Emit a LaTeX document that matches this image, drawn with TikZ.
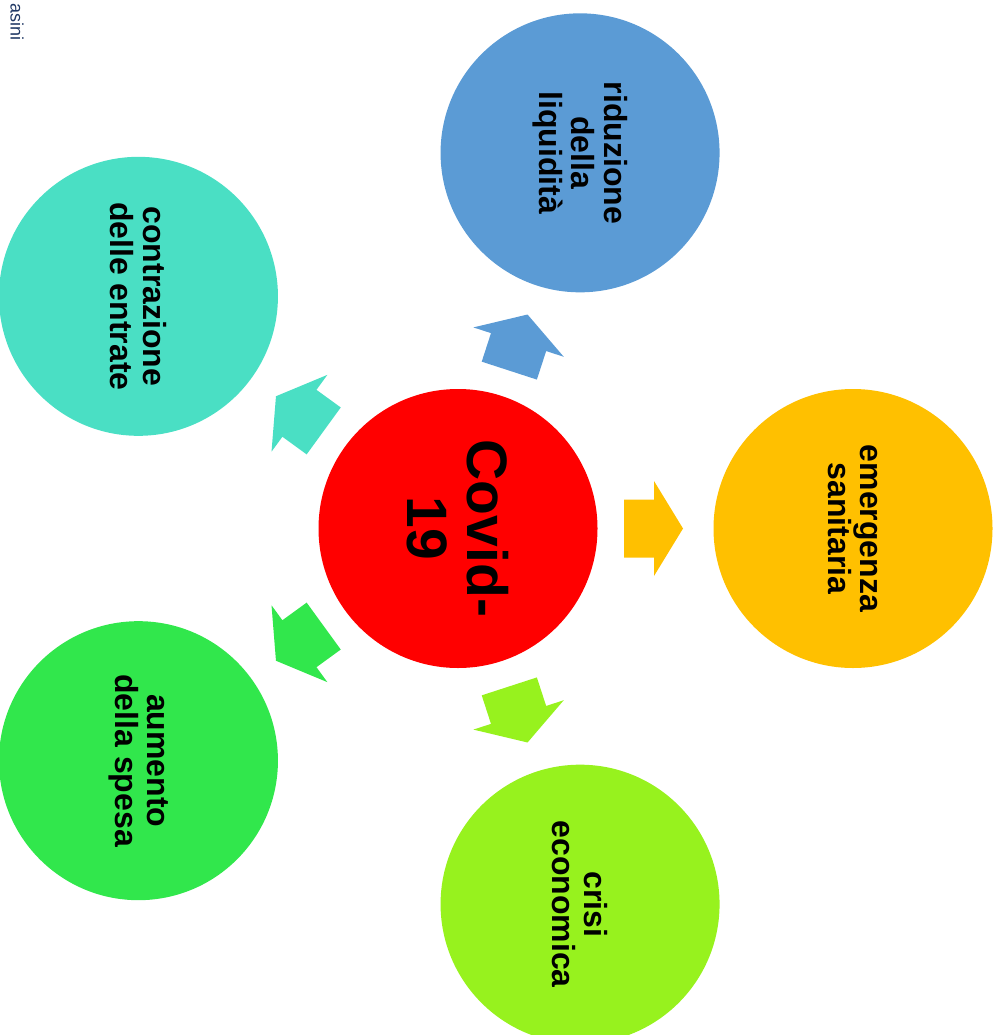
\documentclass[tikz,border=0pt]{standalone}
\usepackage{fontspec}
\setmainfont{Liberation Sans}
\usetikzlibrary{calc}
\definecolor{cred}{HTML}{FF0000}
\definecolor{cyellow}{HTML}{FFC000}
\definecolor{cblue}{HTML}{5B9BD5}
\definecolor{cteal}{HTML}{4ADFC4}
\definecolor{cgreen}{HTML}{31E74C}
\definecolor{clime}{HTML}{97F21E}
\definecolor{cnote}{HTML}{203864}
\newcommand{\blockarrow}[2]{%
  \fill[#2, shift={(C)}, rotate=#1] (166,29) -- (196,29) -- (196,47.5) -- (225,0)
    -- (196,-47.5) -- (196,-29) -- (166,-29) -- cycle;}
\tikzset{
  bubble/.style={circle, draw=none, minimum size=279pt, inner sep=0pt,
    align=center, rotate=-90, text=black,
    font=\bfseries\fontsize{32}{32.5}\selectfont},
  hub/.style={bubble, font=\bfseries\fontsize{57}{60}\selectfont}
}
\begin{document}
\begin{tikzpicture}[x=1pt, y=1pt]
\useasboundingbox (0,0) rectangle (999,-1035);
\clip (0,0) rectangle (999,-1035);
\coordinate (C) at (458,-528.5);
\node[hub, fill=cred] (covid) at (C) {Covid-\\19};
\node[bubble, fill=cyellow] (emer) at ($(C)+(0:395)$) {emergenza\\sanitaria};
\node[bubble, fill=cblue] (rid) at ($(C)+(72:395)$) {riduzione\\della\\liquidità};
\node[bubble, fill=cteal] (contr) at ($(C)+(144:395)$) {contrazione\\delle entrate};
\node[bubble, fill=cgreen] (aum) at ($(C)+(216:395)$) {aumento\\della spesa};
\node[bubble, fill=clime] (crisi) at ($(C)+(288:395)$) {crisi\\economica};
\blockarrow{0}{cyellow}
\blockarrow{72}{cblue}
\blockarrow{144}{cteal}
\blockarrow{216}{cgreen}
\blockarrow{288}{clime}
\node[rotate=-90, text=cnote, inner sep=0pt, font=\fontsize{18}{18}\selectfont] (note) at (17,-22) {asini};
\end{tikzpicture}
\end{document}
